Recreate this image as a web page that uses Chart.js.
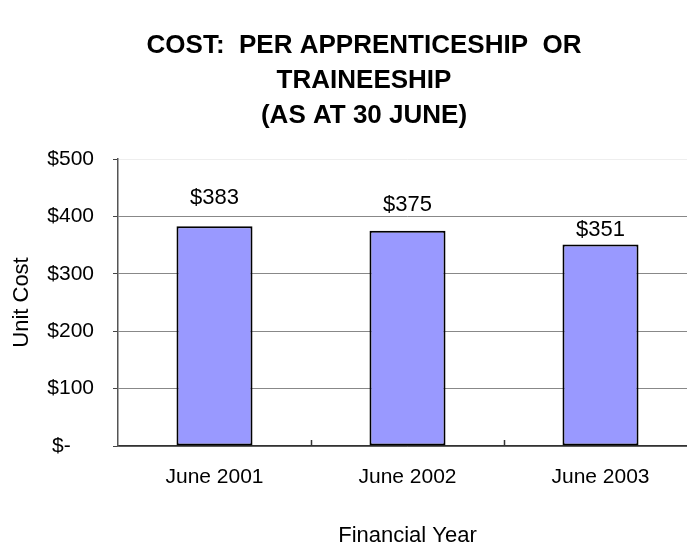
<!DOCTYPE html>
<html>
<head>
<meta charset="utf-8">
<script src="https://cdn.jsdelivr.net/npm/chart.js@4/dist/chart.umd.min.js"></script>
<style>
  html, body { margin: 0; padding: 0; background: #fff; overflow: hidden; }
  #wrap { position: absolute; left: 0; top: 0; width: 728px; height: 560px; }
</style>
</head>
<body>
<div id="wrap"><canvas id="c" width="728" height="560"></canvas></div>
<script>
// Unit cost per apprenticeship / traineeship, as at 30 June
const categories = ['June 2001', 'June 2002', 'June 2003'];
const unitCost = [383, 375, 351];
const yTickValues = [0, 100, 200, 300, 400, 500];
const yTickLabels = ['$-    ', '$100', '$200', '$300', '$400', '$500'];
const titleLines = ['COST:  PER APPRENTICESHIP  OR', 'TRAINEESHIP', '(AS AT 30 JUNE)'];

const FONT = "'Liberation Sans', Arial, Helvetica, sans-serif";

// Value labels above each bar
const valueLabels = {
  id: 'valueLabels',
  afterDatasetsDraw(chart, args, opts) {
    const ctx = chart.ctx;
    const meta = chart.getDatasetMeta(0);
    ctx.save();
    ctx.font = '22px ' + FONT;
    ctx.fillStyle = '#000';
    ctx.textAlign = 'center';
    ctx.textBaseline = 'middle';
    meta.data.forEach((bar, i) => {
      const v = chart.data.datasets[0].data[i];
      ctx.fillText('$' + v, bar.x, bar.y - opts.lift[i]);
    });
    ctx.restore();
  }
};

// Short inward tick marks on the category axis, between categories
const categoryTicks = {
  id: 'categoryTicks',
  afterDraw(chart) {
    const x = chart.scales.x;
    const ctx = chart.ctx;
    const n = chart.data.labels.length;
    const step = (x.right - x.left) / n;
    ctx.save();
    ctx.strokeStyle = '#333';
    ctx.lineWidth = 1.5;
    for (let i = 1; i <= n; i++) {
      const px = Math.round(x.getPixelForValue(i - 1) + step / 2) + 0.5;
      ctx.beginPath();
      ctx.moveTo(px, x.top - 6);
      ctx.lineTo(px, x.top);
      ctx.stroke();
    }
    ctx.restore();
  }
};

new Chart(document.getElementById('c'), {
  type: 'bar',
  data: {
    labels: categories,
    datasets: [{
      data: unitCost,
      backgroundColor: '#9999FF',
      borderColor: '#000',
      borderWidth: 2,
      borderSkipped: false,
      categoryPercentage: 1,
      barPercentage: 0.394
    }]
  },
  options: {
    responsive: false,
    devicePixelRatio: 1,
    animation: false,
    events: [],
    layout: { padding: { left: 31, right: 31, top: 0, bottom: 0 } },
    plugins: {
      legend: { display: false },
      tooltip: { enabled: false },
      title: {
        display: true,
        text: titleLines,
        color: '#000',
        font: { family: FONT, size: 26, weight: 'bold', lineHeight: 35 / 26 },
        padding: { top: 28.5, bottom: 25.5 }
      },
      valueLabels: { lift: [28, 26, 15] }
    },
    scales: {
      x: {
        grid: { display: true, offset: true, drawOnChartArea: false, drawTicks: false },
        border: { display: true, color: '#333', width: 1.5 },
        ticks: {
          color: '#000',
          font: { family: FONT, size: 21 },
          padding: 19,
          maxRotation: 0
        },
        title: {
          display: true,
          text: 'Financial Year',
          color: '#000',
          font: { family: FONT, size: 22 },
          padding: { top: 0, bottom: 10.8 }
        },
        afterFit(scale) { scale.height = 114; }
      },
      y: {
        min: 0,
        max: 500,
        afterBuildTicks(scale) {
          scale.ticks = yTickValues.map(v => ({ value: v }));
        },
        grid: {
          color: (c) => (c.tick && c.tick.value === 500 ? '#eeeeee' : '#888888'),
          lineWidth: 1,
          tickColor: '#444',
          tickLength: 5,
          drawTicks: true
        },
        border: { display: true, color: '#555', width: 1.5 },
        ticks: {
          color: '#000',
          font: { family: FONT, size: 21 },
          padding: 19,
          callback: (v) => yTickLabels[yTickValues.indexOf(v)]
        },
        title: {
          display: true,
          text: 'Unit Cost',
          color: '#000',
          font: { family: FONT, size: 22 },
          padding: { top: -22.2, bottom: 0 }
        },
        afterFit(scale) { scale.width = 87; }
      }
    }
  },
  plugins: [valueLabels, categoryTicks]
});
</script>
</body>
</html>
